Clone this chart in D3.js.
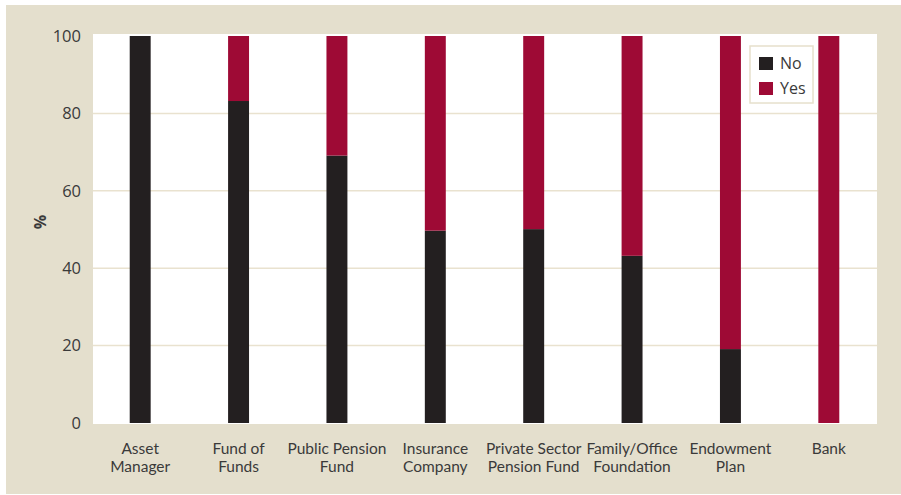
<!DOCTYPE html>
<html>
<head>
<meta charset="utf-8">
<script src="https://cdn.jsdelivr.net/npm/d3@7/dist/d3.min.js"></script>
<style>
  html, body { margin: 0; padding: 0; background: #ffffff; }
  svg { display: block; }
  text { font-family: "Open Sans", "Noto Sans", sans-serif; fill: #3a3a3a; }
</style>
</head>
<body>
<svg id="chart" width="901" height="495"></svg>
<script>
// Investor types on the x axis, each split into No / Yes shares (%)
const categories = [
  ["Asset", "Manager"],
  ["Fund of", "Funds"],
  ["Public Pension", "Fund"],
  ["Insurance", "Company"],
  ["Private Sector", "Pension Fund"],
  ["Family/Office", "Foundation"],
  ["Endowment", "Plan"],
  ["Bank"]
];
const noValues  = [100, 83.2, 69.1, 49.7, 50.1, 43.2, 19.1, 0];
const yesValues = [0, 16.8, 30.9, 50.3, 49.9, 56.8, 80.9, 100];
const seriesNames = ["No", "Yes"];
const yTicks = [0, 20, 40, 60, 80, 100];

const colors = { No: "#231f20", Yes: "#9e0a35" };
const frame = "#e4dfcd";
const grid = "#e9e2cf";

const svg = d3.select("#chart");
const W = 901, H = 495;
const plot = { left: 93, right: 877, top: 34, bottom: 424 };

// beige frame and white plotting panel
svg.append("rect").attr("x", 6).attr("y", 5).attr("width", W - 6).attr("height", H - 6).attr("fill", frame);
svg.append("rect").attr("x", plot.left).attr("y", plot.top)
  .attr("width", plot.right - plot.left).attr("height", plot.bottom - plot.top).attr("fill", "#ffffff");

const keys = categories.map(c => c.join(" "));
const x = d3.scaleBand().domain(keys).range([91, 878]).paddingInner(0.787).paddingOuter(0.3935);
const y = d3.scaleLinear().domain([0, 100]).range([423, 36]);

// horizontal gridlines
svg.append("g").selectAll("line").data(yTicks.filter(t => t > 0 && t < 100)).join("line")
  .attr("x1", plot.left).attr("x2", plot.right)
  .attr("y1", d => y(d)).attr("y2", d => y(d))
  .attr("stroke", grid).attr("stroke-width", 1.5);

// y axis tick labels
const yAxis = d3.axisLeft(y).tickValues(yTicks).tickSize(0).tickPadding(0);
const gy = svg.append("g").attr("transform", "translate(81,0)").call(yAxis);
gy.select(".domain").remove();
gy.selectAll("text").attr("font-size", 16.5).attr("fill", "#3a3a3a")
  .style("font-family", "'Open Sans', sans-serif");

// axis title
svg.append("text").attr("transform", "translate(40,222) rotate(-90)")
  .attr("text-anchor", "middle").attr("dominant-baseline", "central")
  .attr("font-size", 16).attr("font-weight", "bold").attr("fill", "#222").text("%");

// stacked bars
const rows = keys.map((k, i) => ({ key: k, No: noValues[i], Yes: yesValues[i] }));
const stacked = d3.stack().keys(seriesNames)(rows);
svg.append("g").selectAll("g").data(stacked).join("g")
  .attr("fill", s => colors[s.key])
  .selectAll("rect").data(s => s.map(d => ({ d, key: d.data.key }))).join("rect")
  .attr("x", o => x(o.key)).attr("width", x.bandwidth())
  .attr("y", o => y(o.d[1])).attr("height", o => y(o.d[0]) - y(o.d[1]));

// category labels, one text element per line
const xl = svg.append("g");
categories.forEach((lines, i) => {
  const cx = x(keys[i]) + x.bandwidth() / 2;
  lines.forEach((ln, j) => xl.append("text").attr("text-anchor", "middle")
    .attr("x", cx).attr("y", 454 + j * 18)
    .style("font-family", "Lato, 'Open Sans', sans-serif")
    .attr("font-size", 15.5).attr("fill", "#333").text(ln));
});

// legend
const lg = svg.append("g").attr("transform", "translate(750,46)");
lg.append("rect").attr("width", 63).attr("height", 57).attr("fill", "#ffffff")
  .attr("stroke", "#e6e0cc").attr("stroke-width", 1.5);
seriesNames.forEach((n, i) => {
  lg.append("rect").attr("x", 9).attr("y", 11 + i * 25).attr("width", 14).attr("height", 13).attr("fill", colors[n]);
  lg.append("text").attr("x", 30).attr("y", 23 + i * 25).attr("font-size", 16).attr("fill", "#3a3a3a").text(n);
});
</script>
</body>
</html>
